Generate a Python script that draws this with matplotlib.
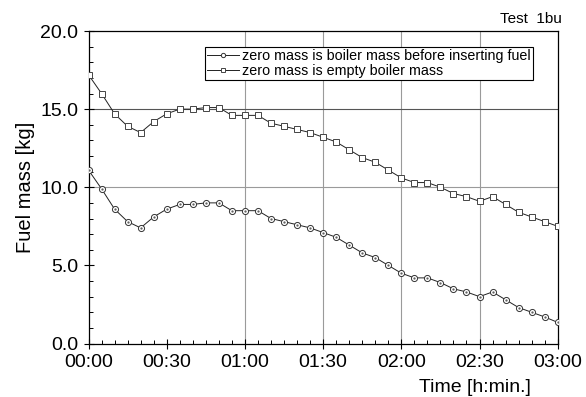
import matplotlib
matplotlib.use("Agg")
import matplotlib.pyplot as plt
from matplotlib.ticker import MultipleLocator, FixedLocator

plt.rcParams['font.family'] = ['Liberation Sans', 'DejaVu Sans']

# time in minutes
minutes = [0, 5, 10, 15, 20, 25, 30, 35, 40, 45, 50, 55, 60, 65, 70, 75, 80, 85,
           90, 95, 100, 105, 110, 115, 120, 125, 130, 135, 140, 145, 150, 155,
           160, 165, 170, 175, 180]

mass_before_fuel = [11.1, 9.9, 8.6, 7.8, 7.4, 8.1, 8.6, 8.9, 8.9, 9.0, 9.0, 8.5,
                    8.5, 8.5, 8.0, 7.8, 7.6, 7.4, 7.1, 6.8, 6.3, 5.8, 5.5, 5.0,
                    4.5, 4.2, 4.2, 3.9, 3.5, 3.3, 3.0, 3.3, 2.8, 2.3, 2.0, 1.7,
                    1.35]

mass_empty_boiler = [17.2, 16.0, 14.7, 13.9, 13.5, 14.2, 14.7, 15.0, 15.0, 15.1,
                     15.1, 14.6, 14.6, 14.6, 14.1, 13.9, 13.7, 13.5, 13.2, 12.9,
                     12.4, 11.9, 11.6, 11.1, 10.6, 10.3, 10.3, 10.0, 9.6, 9.4,
                     9.1, 9.4, 8.9, 8.4, 8.1, 7.8, 7.5]

x_tick_pos = [0, 30, 60, 90, 120, 150, 180]
x_tick_labels = ["00:00", "00:30", "01:00", "01:30", "02:00", "02:30", "03:00"]
y_tick_pos = [0, 5, 10, 15, 20]
y_tick_labels = ["0.0", "5.0", "10.0", "15.0", "20.0"]
v_grid = [60, 90, 120, 150]
label_before = "zero mass is boiler mass before inserting fuel"
label_empty = "zero mass is empty boiler mass"

fig = plt.figure(figsize=(5.86, 3.97), dpi=100)
ax = fig.add_axes([88.5/586, 1-343.5/397, (557.7-88.5)/586, (343.5-31)/397])

# grid
for xv in v_grid:
    ax.axvline(xv, color='#9a9a9a', lw=0.8, zorder=1)
ax.axhline(10, color='#9a9a9a', lw=0.8, zorder=1)
ax.axhline(15, color='#555555', lw=0.8, zorder=1)

ax.plot(minutes, mass_before_fuel, color='#222222', lw=0.7, marker='o',
        markersize=4.4, markerfacecolor='white', markeredgecolor='#333333',
        markeredgewidth=0.7, label=label_before, zorder=3)
ax.plot(minutes, mass_before_fuel, ls='none', marker='.', markersize=1.2,
        color='#555555', zorder=4)
ax.plot(minutes, mass_empty_boiler, color='#222222', lw=0.7, marker='s',
        markersize=4.0, markerfacecolor='white', markeredgecolor='#444444',
        markeredgewidth=0.7, label=label_empty, zorder=3)

ax.set_xlim(0, 180)
ax.set_ylim(0, 20)
ax.xaxis.set_major_locator(FixedLocator(x_tick_pos))
ax.set_xticklabels(x_tick_labels)
ax.xaxis.set_minor_locator(MultipleLocator(5))
ax.yaxis.set_major_locator(FixedLocator(y_tick_pos))
ax.set_yticklabels(y_tick_labels)
ax.yaxis.set_minor_locator(MultipleLocator(1))

ax.tick_params(which='major', direction='inout', length=7, width=0.8,
               labelsize=14, pad=4, colors='black')
ax.tick_params(which='minor', direction='in', length=3, width=0.7)
ax.tick_params(top=False, right=False, which='both')
for s in ax.spines.values():
    s.set_linewidth(0.9)
    s.set_color('black')

ax.set_ylabel("Fuel mass [kg]", fontsize=14.5, labelpad=4)
fig.text(475/586, 1-388/397, "Time [h:min.]", fontsize=14, ha='center', va='center')
fig.text(562/586, 1-19/397, "Test  1bu", fontsize=11, ha='right', va='center')

leg = ax.legend(loc='upper left', bbox_to_anchor=((205-88.5)/469.2, (343.5-47.3)/312.5),
                borderaxespad=0, fontsize=10.3, handlelength=2.2, handletextpad=0.25,
                labelspacing=0.02, borderpad=0.15, fancybox=False, framealpha=1,
                edgecolor='black', markerscale=0.7)
leg.get_frame().set_linewidth(0.8)

fig.savefig("out.png", dpi=100)
